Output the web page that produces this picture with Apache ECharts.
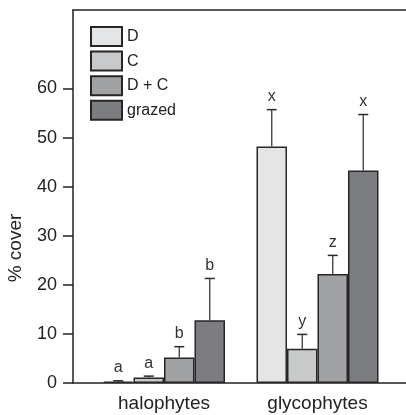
<!DOCTYPE html>
<html>
<head>
<meta charset="utf-8">
<script src="https://cdn.jsdelivr.net/npm/echarts@6/dist/echarts.min.js"></script>
<style>
  html, body { margin: 0; padding: 0; background: #fff; }
  #chart { width: 406px; height: 415px; }
</style>
</head>
<body>
<div id="chart"></div>
<script>
// Plant cover by functional group and treatment (mean + SE)
const categories = ['halophytes', 'glycophytes'];
const treatments = ['D', 'C', 'D + C', 'grazed'];

const meanD = [0.3, 48.2];
const seD = [0.15, 7.5];
const meanC = [1.1, 7.0];
const seC = [0.3, 2.9];
const meanDC = [5.2, 22.2];
const seDC = [2.2, 3.8];
const meanG = [12.8, 43.3];
const seG = [8.5, 11.4];

const lettersD = ['a', 'x'];
const lettersC = ['a', 'y'];
const lettersDC = ['b', 'z'];
const lettersG = ['b', 'x'];

const yTicks = [0, 10, 20, 30, 40, 50, 60];

const means = [meanD, meanC, meanDC, meanG];
const ses = [seD, seC, seDC, seG];
const letters = [lettersD, lettersC, lettersDC, lettersG];
const fills = ['#e4e5e6', '#c8c9ca', '#a1a2a4', '#7c7d80'];

const BAR_W = 30.5;
const Y_MAX = 76;
const FONT = 'Liberation Sans, Arial, Helvetica, sans-serif';

// rows: [category index, treatment index, mean, upper end, letter]
const errRows = [];
means.forEach((m, t) => {
  m.forEach((v, c) => {
    errRows.push([c, t, v, v + ses[t][c], letters[t][c]]);
  });
});

const chart = echarts.init(document.getElementById('chart'), null, { renderer: 'canvas' });

const barSeries = treatments.map((name, t) => ({
  name: name,
  type: 'bar',
  xAxisIndex: 2,
  yAxisIndex: 1,
  barWidth: BAR_W,
  barGap: '0%',
  data: means[t],
  itemStyle: { color: fills[t], borderColor: '#262626', borderWidth: 1.5 },
  emphasis: { disabled: true },
  z: 2
}));

const errorSeries = {
  type: 'custom',
  xAxisIndex: 2,
  yAxisIndex: 1,
  data: errRows,
  z: 3,
  silent: true,
  renderItem: function (params, api) {
    const c = api.value(0);
    const t = api.value(1);
    const base = api.coord([c, api.value(2)]);
    const top = api.coord([c, api.value(3)]);
    const x = base[0] + (t - 1.5) * BAR_W;
    const capHalf = 5;
    return {
      type: 'group',
      children: [
        { type: 'line', shape: { x1: x, y1: base[1], x2: x, y2: top[1] },
          style: { stroke: '#3a3a3a', lineWidth: 1.3 } },
        { type: 'line', shape: { x1: x - capHalf, y1: top[1], x2: x + capHalf, y2: top[1] },
          style: { stroke: '#2a2a2a', lineWidth: 1.5 } },
        { type: 'text', x: x, y: top[1] - 5,
          style: { text: errRows[params.dataIndex][4], fill: '#333', font: '16px ' + FONT,
                   align: 'center', verticalAlign: 'bottom' } }
      ]
    };
  }
};

chart.setOption({
  animation: false,
  backgroundColor: '#fff',
  grid: [
    { left: 73, right: 0, top: 10, bottom: 32 },
    { left: 87.25, right: 11.75, top: 10, bottom: 32 }
  ],
  legend: {
    orient: 'vertical',
    left: 85,
    top: 21,
    itemWidth: 31,
    itemHeight: 19,
    itemGap: 3.6,
    icon: 'rect',
    selectedMode: false,
    data: treatments,
    textStyle: { fontFamily: FONT, fontSize: 16, color: '#222' }
  },
  xAxis: [
    { gridIndex: 0, type: 'value', min: 0, max: 1, position: 'bottom',
      axisLine: { show: true, lineStyle: { color: '#222', width: 1.5 } },
      axisTick: { show: false }, axisLabel: { show: false }, splitLine: { show: false } },
    { gridIndex: 0, type: 'value', min: 0, max: 1, position: 'top',
      axisLine: { show: true, onZero: false, lineStyle: { color: '#222', width: 1.5 } },
      axisTick: { show: false }, axisLabel: { show: false }, splitLine: { show: false } },
    { gridIndex: 1, type: 'category', data: categories, position: 'bottom',
      axisLine: { show: false }, axisTick: { show: false },
      axisLabel: { fontFamily: FONT, fontSize: 19, color: '#222', margin: 11 } }
  ],
  yAxis: [
    { gridIndex: 0, type: 'value', min: 0, max: Y_MAX, interval: 10,
      axisLine: { show: true, lineStyle: { color: '#222', width: 1.5 } },
      axisTick: { show: true, length: 10, lineStyle: { color: '#222', width: 1.5 },
                  customValues: yTicks },
      axisLabel: { fontFamily: FONT, fontSize: 18, color: '#222', margin: 16,
                   customValues: yTicks },
      splitLine: { show: false } },
    { gridIndex: 1, type: 'value', min: 0, max: Y_MAX, show: false, splitLine: { show: false } }
  ],
  graphic: [
    { type: 'text', x: 16, y: 248, rotation: Math.PI / 2,
      style: { text: '% cover', font: '19px ' + FONT, fill: '#222',
               align: 'center', verticalAlign: 'middle' } }
  ],
  series: barSeries.concat([errorSeries])
});
</script>
</body>
</html>
